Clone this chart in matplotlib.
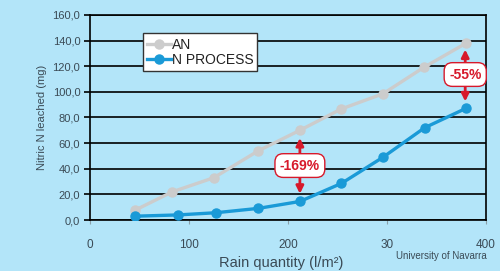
import matplotlib.pyplot as plt
from matplotlib.patches import FancyArrowPatch

# data
an_x = [45, 83, 125, 170, 212, 254, 296, 337, 380]
an_y = [7.5, 22.0, 33.0, 54.0, 70.0, 86.7, 98.5, 119.0, 138.0]
np_x = [45, 89, 127, 170, 212, 254, 296, 338, 380]
np_y = [3.0, 4.0, 5.7, 9.1, 14.5, 28.6, 49.0, 72.0, 87.2]

x_ticks = [0, 100, 200, 300, 400]
x_labels = ["0", "100", "200", "30", "400"]
y_ticks = [0, 20, 40, 60, 80, 100, 120, 140, 160]
y_labels = ["0,0", "20,0", "40,0", "60,0", "80,0", "100,0", "120,0", "140,0", "160,0"]

bg = "#b3e5f9"
gris = "#cccccc"
azul = "#1a9ad7"
rojo = "#d7192b"
txt = "#3a4a55"

plt.rcParams['font.family'] = ['Liberation Sans Narrow', 'Liberation Sans', 'DejaVu Sans']

fig = plt.figure(figsize=(5, 2.71), dpi=100, facecolor=bg)
ax = fig.add_axes([0.18, 0.188, 0.792, 0.757], facecolor=bg)

ax.plot(an_x, an_y, color=gris, lw=2.4, marker="o", ms=6.5, label="AN", zorder=3)
ax.plot(np_x, np_y, color=azul, lw=2.4, marker="o", ms=6.5, label="N PROCESS", zorder=3)

ax.set_xlim(0, 400)
ax.set_ylim(0, 160)
ax.set_yticks(y_ticks)
ax.set_yticklabels(y_labels)
ax.set_xticks(x_ticks)
ax.set_xticklabels(x_labels)
ax.yaxis.grid(True, color="black", lw=1.2)
ax.set_axisbelow(True)
for s in ax.spines.values():
    s.set_color("black")
    s.set_linewidth(1.2)
ax.tick_params(axis="y", colors=txt, labelsize=8, length=4, color="black", width=1.2, pad=3)
ax.tick_params(axis="x", colors=txt, labelsize=8.5, length=3, color="#8aa0aa", width=0.8, pad=11)

ax.set_ylabel("Nitric N leached (mg)", color=txt, fontsize=8, labelpad=4)
fig.text(0.562, 1 - 256 / 271, "Rain quantity (l/m²)", color=txt, fontsize=10.5,
         ha="center", va="top")
fig.text(0.974, 1 - 256 / 271, "University of Navarra", color=txt, fontsize=7,
         ha="right", va="center")

# leyenda
leg = ax.legend(loc="upper left", bbox_to_anchor=(0.134, 0.91), frameon=True, fancybox=False,
                framealpha=1, fontsize=10, handlelength=1.7, handletextpad=0.05,
                borderpad=0.3, labelspacing=0.1, borderaxespad=0)
leg.get_frame().set_facecolor("white")
leg.get_frame().set_edgecolor("#333333")
leg.get_frame().set_linewidth(1)
for t in leg.get_texts():
    t.set_color("#222222")


def flecha(x, y0, y1, label, yl):
    a = FancyArrowPatch((x, y0), (x, y1), arrowstyle="<|-|>", mutation_scale=11,
                        color=rojo, lw=2, zorder=4, shrinkA=0, shrinkB=0)
    ax.add_patch(a)
    ax.text(x, yl, label, color=rojo, fontsize=10, fontweight="bold", ha="center", va="center",
            zorder=5, clip_on=False,
            bbox=dict(boxstyle="round,pad=0.35,rounding_size=0.6", fc="white", ec=rojo, lw=1))


flecha(212, 64, 20.5, "-169%", 42.5)
flecha(379, 133, 92.5, "-55%", 113.5)

fig.savefig("out.png", dpi=100, facecolor=bg)
